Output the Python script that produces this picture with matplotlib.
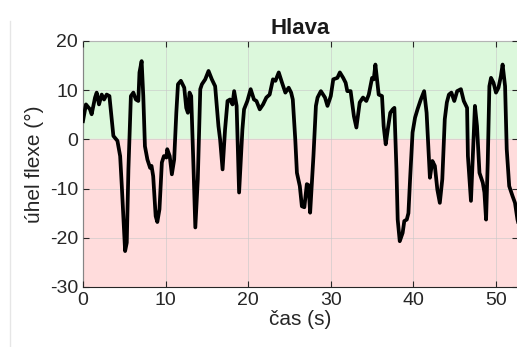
import matplotlib
matplotlib.use('Agg')
import matplotlib.pyplot as plt
from matplotlib.lines import Line2D

# head flexion angle over time
cas = [0.0, 0.36, 0.85, 1.05, 1.46, 1.66, 1.94, 2.27, 2.55, 2.87, 3.2, 3.36, 3.68, 4.17,
       4.5, 4.7, 5.1, 5.3, 5.5, 5.8, 6.1, 6.4, 6.7, 6.84, 7.1, 7.3, 7.5, 7.8, 8.13, 8.3,
       8.5, 8.8, 9.0, 9.26, 9.55, 9.8, 10.1, 10.2, 10.5, 10.76, 11.04, 11.3, 11.5, 11.85,
       12.26, 12.5, 12.7, 12.9, 13.1, 13.4, 13.6, 13.9, 14.2, 14.4, 14.8, 15.2, 15.6,
       16.0, 16.4, 16.6, 16.9, 17.2, 17.5, 17.8, 18.1, 18.3, 18.6, 18.9, 19.3, 19.5,
       19.9, 20.3, 20.7, 21.0, 21.4, 21.8, 22.2, 22.6, 23.0, 23.3, 23.7, 24.1, 24.5,
       24.9, 25.2, 25.4, 25.7, 25.9, 26.25, 26.5, 26.8, 27.1, 27.3, 27.5, 27.9, 28.2,
       28.4, 28.8, 29.3, 29.6, 30.0, 30.3, 30.8, 31.1, 31.5, 31.8, 32.0, 32.4, 32.8,
       33.1, 33.5, 33.9, 34.3, 34.6, 35.0, 35.2, 35.4, 35.6, 35.8, 36.2, 36.4, 36.65,
       36.9, 37.2, 37.5, 37.7, 37.95, 38.1, 38.35, 38.7, 38.9, 39.2, 39.4, 39.6, 39.9,
       40.2, 40.5, 40.9, 41.3, 41.6, 41.9, 42.0, 42.3, 42.6, 42.9, 43.2, 43.5, 43.8,
       44.05, 44.3, 44.6, 44.95, 45.3, 45.75, 46.1, 46.5, 46.6, 46.97, 47.25, 47.45,
       47.7, 48.0, 48.4, 48.6, 48.8, 49.0, 49.2, 49.4, 49.7, 50.0, 50.3, 50.6, 50.8,
       51.1, 51.3, 51.6, 52.0, 52.3, 52.6, 53.0]
uhel = [3.7, 7.1, 6.1, 5.1, 8.5, 9.5, 7.1, 9.1, 8.1, 9.1, 8.8, 6.1, 0.7, -0.3,
        -3.4, -9.5, -22.7, -21.0, -6.1, 8.8, 9.5, 8.1, 7.8, 13.6, 15.9, 8.8, -1.4, -4.1, -5.8, -5.4,
        -7.5, -15.6, -16.8, -14.2, -4.7, -3.4, -3.7, -2.0, -3.4, -7.1, -4.1, 5.4, 11.2, 11.9,
        10.5, 6.4, 5.4, 9.5, 8.8, -6.8, -17.9, -8.1, 10.2, 11.2, 12.2, 13.9, 12.2,
        10.8, 2.7, 0.0, -6.1, 2.0, 7.8, 8.1, 7.1, 9.8, 6.8, -10.8, 2.0, 6.1,
        7.8, 10.2, 8.1, 7.8, 6.1, 7.1, 8.5, 9.1, 12.2, 11.9, 13.6, 11.5, 9.5,
        10.5, 9.5, 8.1, 0.0, -6.8, -9.5, -13.6, -13.8, -9.1, -9.3, -14.9, -3.4, 6.8,
        8.5, 9.8, 8.5, 6.8, 8.8, 12.2, 12.5, 13.6, 12.5, 11.5, 9.8, 9.8, 4.7,
        2.4, 7.5, 8.5, 7.8, 9.1, 12.5, 12.2, 15.2, 12.2, 9.1, 8.8, 2.7, -1.0,
        2.0, 5.4, 6.1, 6.4, -6.1, -16.3, -20.7, -19.0, -16.6, -16.3, -15.0, -8.1, 1.4,
        4.4, 6.1, 8.1, 9.8, 5.4, -4.7, -7.8, -4.4, -5.4, -10.2, -12.9, -8.1, 4.1,
        7.5, 9.1, 9.5, 7.8, 9.8, 10.2, 7.8, 6.4, -3.4, -12.5, -1.4, 6.8,
        2.7, -6.8, -8.8, -10.8, -16.3, -4.7, 10.8, 12.5, 11.5, 9.5, 10.5, 12.9, 15.2,
        10.8, -2.0, -9.5, -11.5, -12.9, -16.3, -19.0]

plt.rcParams['font.family'] = ['Liberation Sans', 'DejaVu Sans']
plt.rcParams['axes.unicode_minus'] = False

fig = plt.figure(figsize=(5.17, 3.47), dpi=100)
ax = fig.add_axes([0.1605, 0.173, 0.842, 0.709])

ax.axhspan(0, 20, color='#dcf8dc', zorder=0)
ax.axhspan(-30, 0, color='#ffdcdc', zorder=0)

ax.plot(cas, uhel, color='black', linewidth=2.7, solid_joinstyle='round', zorder=3)

ax.set_xlim(0, 52.7)
ax.set_ylim(-30, 20)
ax.set_xticks([0, 10, 20, 30, 40, 50])
ax.set_yticks([-30, -20, -10, 0, 10, 20])
ax.grid(True, color='#c8c8c8', linewidth=0.6, alpha=0.7, zorder=1)
ax.set_axisbelow(False)
ax.tick_params(direction='in', length=4, width=0.8, colors='#262626', labelsize=14,
               top=True, right=True, labelcolor='#262626')
for s in ax.spines.values():
    s.set_color('#262626')
    s.set_linewidth(0.8)
ax.spines['top'].set_color('#9a9a9a')

ax.set_title('Hlava', fontsize=16, fontweight='bold', color='#1a1a1a', pad=5)
ax.set_xlabel('čas (s)', fontsize=15, color='#262626', labelpad=1)
ax.set_ylabel('úhel flexe (°)', fontsize=15, color='#262626', labelpad=4)

# faint border line on the left of the screenshot
fig.add_artist(Line2D([0.02, 0.02], [0, 0.94], transform=fig.transFigure,
                      color='#e6e6e6', linewidth=1))

fig.savefig('out.png', dpi=100)
